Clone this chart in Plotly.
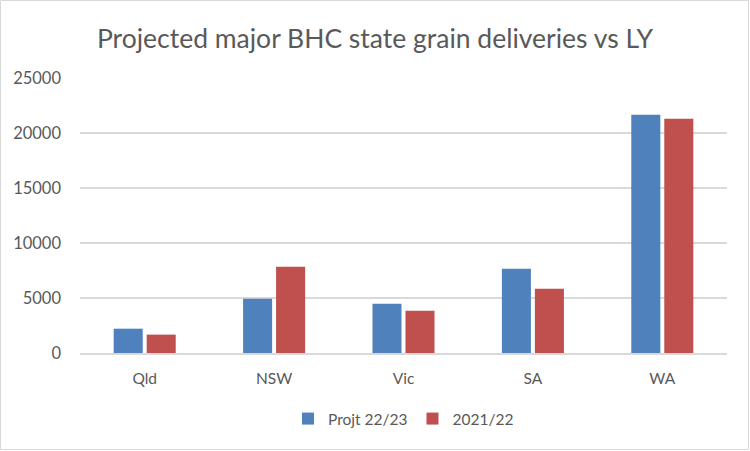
import plotly.graph_objects as go

categories = ["Qld", "NSW", "Vic", "SA", "WA"]
projt_22_23 = [2210, 4940, 4480, 7670, 21670]
y2021_22 = [1670, 7850, 3850, 5850, 21300]
series_names = ["Projt 22/23", "2021/22"]

W, H = 750, 451
ML, MR, MT, MB = 80, 23, 78, 98

grey = "#595959"
font = "Lato"

fig = go.Figure()
fig.add_trace(go.Bar(x=categories, y=projt_22_23, name=series_names[0],
                     marker=dict(color="#4F81BD", line=dict(width=0))))
fig.add_trace(go.Bar(x=categories, y=y2021_22, name=series_names[1],
                     marker=dict(color="#C0504D", line=dict(width=0))))

pw = W - ML - MR
ph = H - MT - MB
fig.add_shape(type="rect", xref="paper", yref="paper",
              x0=(0.5 - ML) / pw, x1=(W - 1.5 - ML) / pw,
              y0=-(MB - 1.5) / ph, y1=(H - MB - 0.5) / ph,
              line=dict(color="#D9D9D9", width=1), fillcolor="rgba(0,0,0,0)", layer="below")

fig.update_layout(
    width=W, height=H,
    margin=dict(l=ML, r=MR, t=MT, b=MB),
    paper_bgcolor="white", plot_bgcolor="white",
    title=dict(text="Projected major BHC state grain deliveries vs LY",
               x=0.5, xanchor="center", y=1 - 39 / H, yanchor="middle",
               font=dict(family=font, size=26.5, color=grey)),
    barmode="group", bargap=0.49, bargroupgap=0.12,
    font=dict(family=font, size=15, color=grey),
    legend=dict(orientation="h", x=0.5, xanchor="center", y=-(419 - 353) / ph, yanchor="middle",
                font=dict(family=font, size=15.5, color=grey), itemwidth=30,
                traceorder="normal"),
    showlegend=True,
)
fig.update_xaxes(showgrid=False, showline=True, linecolor="#D9D9D9", linewidth=2,
                 ticks="", ticklabelstandoff=10,
                 tickfont=dict(family=font, size=15.5, color=grey))
fig.update_yaxes(range=[0, 25000], tickvals=[0, 5000, 10000, 15000, 20000, 25000],
                 ticktext=["0", "5000", "10000", "15000", "20000", "25000"],
                 showgrid=True, gridcolor="#D9D9D9", gridwidth=2, zeroline=False,
                 showline=False, ticks="", ticklabelstandoff=18,
                 tickfont=dict(family=font, size=16.5, color=grey))

fig.write_html("out.html", config={"displayModeBar": False},
               post_script="document.body.style.margin='0';document.body.style.padding='0';")
